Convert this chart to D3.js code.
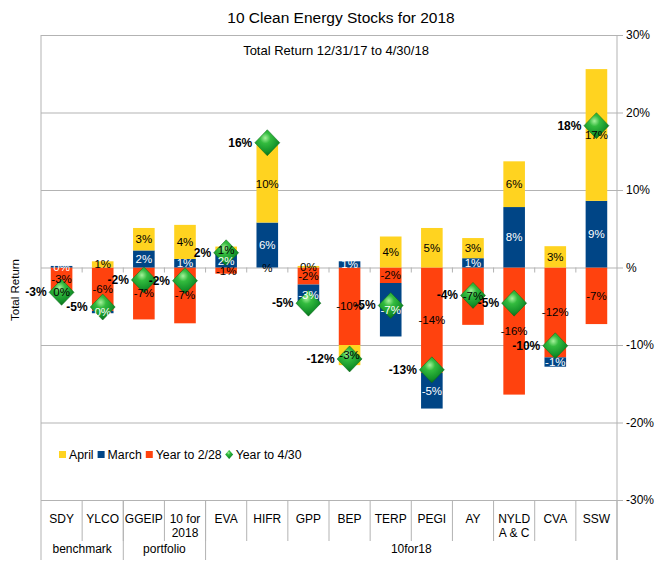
<!DOCTYPE html>
<html><head><meta charset="utf-8">
<script src="https://cdn.jsdelivr.net/npm/d3@7"></script>
<style>body{margin:0;background:#fff}svg{font-family:"Liberation Sans",Arial,sans-serif}</style>
</head><body><svg id="c" width="672" height="577"></svg>
<script>
const categories = ["SDY","YLCO","GGEIP","10 for\n2018","EVA","HIFR","GPP","BEP","TERP","PEGI","AY","NYLD\nA & C","CVA","SSW"];
const groupNames = ["benchmark","portfolio","10for18"];
const groupSizes = [2, 2, 10];
const seriesNames = ["April","March","Year to 2/28","Year to 4/30"];
const ytdFeb = [-3.0,-5.6,-6.7,-7.2,-0.8,0,-2.2,-10.0,-2.0,-13.6,-7.4,-16.4,-11.6,-7.3];
const march  = [0.2,-0.3,2.2,1.1,1.8,5.8,-2.6,0.8,-6.9,-4.6,1.2,7.8,-1.2,8.6];
const april  = [-0.4,0.8,2.9,4.4,0.9,10.0,0.2,-2.6,4.0,5.1,2.6,5.9,2.75,17.0];
const ytdApr = [-3.2,-5.1,-1.6,-1.7,1.9,16.1,-4.6,-11.8,-4.9,-13.2,-3.6,-4.6,-10.1,18.3];
const yTicks = [-30,-20,-10,0,10,20,30];

const colors = {feb:"#ff420e", mar:"#004586", apr:"#ffd320"};
const fmt = v => v === 0 ? "%" : `${Math.round(v)}%`;

const svg = d3.select("#c");
const L = 41, R = 617, T = 35, B = 500;
const y = d3.scaleLinear().domain([-30,30]).range([B,T]);
const xCell = d3.scaleBand().domain(categories).range([L,R]);
const x = d3.scaleBand().domain(categories).range([L,R]).paddingInner(0.475).paddingOuter(0.2375);
const grey = "#b3b3b3";

// defs
const defs = svg.append("defs");
const g1 = defs.append("radialGradient").attr("id","gem").attr("cx","42%").attr("cy","32%").attr("r","70%");
g1.append("stop").attr("offset","0%").attr("stop-color","#a6f29c");
g1.append("stop").attr("offset","30%").attr("stop-color","#33bb3e");
g1.append("stop").attr("offset","75%").attr("stop-color","#14922a");
g1.append("stop").attr("offset","100%").attr("stop-color","#0a6a18");

// gridlines + right axis
const axis = d3.axisRight(y).tickValues(yTicks).tickFormat(fmt).tickSize(6).tickPadding(3);
const ag = svg.append("g").attr("transform",`translate(${R},0)`).call(axis);
ag.select(".domain").remove();
ag.selectAll("line").attr("stroke",grey);
ag.selectAll("text").attr("font-size","12px").attr("fill","#000").attr("font-family","Liberation Sans, Arial, sans-serif");
const grid = d3.axisLeft(y).tickValues(yTicks).tickFormat("").tickSize(R-L);
const gg = svg.append("g").attr("transform",`translate(${R},0)`).call(grid);
gg.select(".domain").remove();
gg.selectAll("line").attr("stroke",grey);

// plot borders
svg.append("line").attr("x1",L).attr("x2",L).attr("y1",T).attr("y2",560).attr("stroke",grey);
svg.append("line").attr("x1",R).attr("x2",R).attr("y1",T).attr("y2",560).attr("stroke",grey);

// small ticks on zero line
svg.append("g").selectAll("line").data(categories.slice(1)).join("line")
  .attr("x1",d=>xCell(d)).attr("x2",d=>xCell(d)).attr("y1",y(0)).attr("y2",y(0)+5).attr("stroke",grey);

// stacks
const segs = [];
categories.forEach((c,i)=>{
  let pos=0, neg=0;
  [["feb",ytdFeb[i]],["mar",march[i]],["apr",april[i]]].forEach(([k,v])=>{
    let a,b;
    if (v>=0){a=pos;b=pos+v;pos=b;} else {a=neg;b=neg+v;neg=b;}
    segs.push({c,k,v,a,b});
  });
});
svg.append("g").selectAll("rect").data(segs.filter(s=>s.v!==0)).join("rect")
  .attr("x",s=>x(s.c)).attr("width",x.bandwidth())
  .attr("y",s=>y(Math.max(s.a,s.b))).attr("height",s=>Math.abs(y(s.a)-y(s.b)))
  .attr("fill",s=>colors[s.k]);

// diamonds
const dia = (cx,cy,w,h)=>`M${cx},${cy-h}L${cx+w},${cy}L${cx},${cy+h}L${cx-w},${cy}Z`;
svg.append("g").selectAll("path").data(categories).join("path")
  .attr("d",(c,i)=>dia(x(c)+x.bandwidth()/2,y(ytdApr[i]),12.5,13))
  .attr("fill","url(#gem)").attr("stroke","#0a6a18").attr("stroke-width",0.5)
  .attr("stroke-linejoin","round");

// bar labels
svg.append("g").selectAll("text").data(segs).join("text")
  .attr("x",s=>x(s.c)+x.bandwidth()/2).attr("y",s=>y((s.a+s.b)/2))
  .attr("text-anchor","middle").attr("dominant-baseline","central")
  .attr("font-size","11.5px").attr("fill",s=>s.k==="mar"?"#fff":"#000")
  .text(s=>fmt(s.v));

// diamond labels
svg.append("g").selectAll("text").data(categories).join("text")
  .attr("x",c=>x(c)+x.bandwidth()/2-15).attr("y",(c,i)=>y(ytdApr[i]))
  .attr("text-anchor","end").attr("dominant-baseline","central")
  .attr("font-size","12px").attr("font-weight","bold").attr("fill","#000")
  .text((c,i)=>fmt(ytdApr[i]));

// category table
svg.append("g").selectAll("line").data(categories.slice(1)).join("line")
  .attr("x1",d=>xCell(d)).attr("x2",d=>xCell(d)).attr("y1",B).attr("y2",541).attr("stroke",grey);
let acc=0;
const gb=[];
groupSizes.forEach((n,gi)=>{
  const first=categories[acc], last=categories[acc+n-1];
  gb.push({name:groupNames[gi], x0:xCell(first), x1:xCell(last)+xCell.bandwidth()});
  acc+=n;
});
svg.append("g").selectAll("line").data(gb).join("line")
  .attr("x1",d=>d.x1).attr("x2",d=>d.x1).attr("y1",B).attr("y2",560).attr("stroke",grey);
svg.append("g").selectAll("text").data(gb).join("text")
  .attr("x",d=>(d.x0+d.x1)/2).attr("y",553).attr("text-anchor","middle")
  .attr("font-size","12px").text(d=>d.name);
const ct = svg.append("g").selectAll("text").data(categories).join("text")
  .attr("x",c=>xCell(c)+xCell.bandwidth()/2).attr("y",523).attr("text-anchor","middle").attr("font-size","12px");
ct.each(function(c){
  const t=d3.select(this);
  c.split("\n").forEach((ln,j)=>t.append("tspan").attr("x",xCell(c)+xCell.bandwidth()/2).attr("dy",j?14:0).text(ln));
});

// legend
const lg = svg.append("g").attr("transform","translate(59,455)");
const litems = [{n:seriesNames[0],c:colors.apr},{n:seriesNames[1],c:colors.mar},{n:seriesNames[2],c:colors.feb},{n:seriesNames[3],c:null}];
let lx=0;
litems.forEach(it=>{
  if(it.c) lg.append("rect").attr("x",lx).attr("y",-4).attr("width",7).attr("height",7).attr("fill",it.c);
  else lg.append("path").attr("d",dia(lx+3.5,-0.5,4,4.5)).attr("fill","url(#gem)");
  const t=lg.append("text").attr("x",lx+10).attr("y",0).attr("dominant-baseline","central").attr("font-size","12.3px").text(it.n);
  lx += 10 + t.node().getComputedTextLength() + 4;
});

// titles
svg.append("text").attr("x",341).attr("y",23).attr("text-anchor","middle").attr("font-size","15.5px").text("10 Clean Energy Stocks for 2018");
svg.append("text").attr("x",336).attr("y",55).attr("text-anchor","middle").attr("font-size","13px").text("Total Return 12/31/17 to 4/30/18");
svg.append("text").attr("transform","translate(19,290) rotate(-90)").attr("text-anchor","middle").attr("font-size","11.5px").text("Total Return");
</script></body></html>
